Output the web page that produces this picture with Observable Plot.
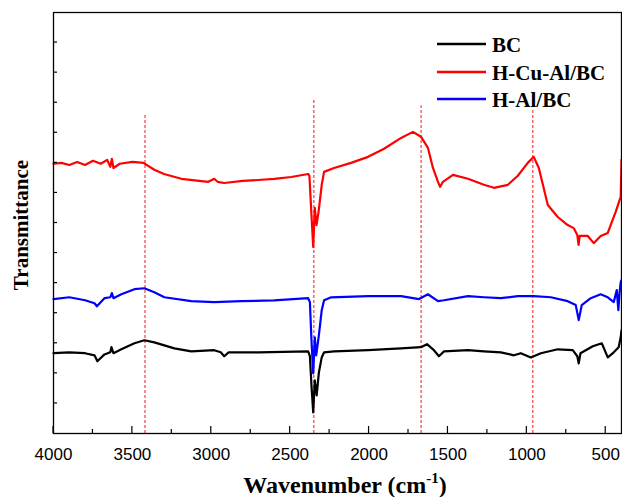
<!DOCTYPE html>
<html><head><meta charset="utf-8">
<script src="https://cdn.jsdelivr.net/npm/d3@7"></script>
<script src="https://cdn.jsdelivr.net/npm/@observablehq/plot@0.6"></script>
<style>body{margin:0;background:#fff}</style>
</head><body><div id="chart"></div>
<script>
const seriesNames = ["BC", "H-Cu-Al/BC", "H-Al/BC"];
const seriesColors = ["#000000", "#ff0000", "#0000ff"];

// BC
const bcWave = [4000,3900,3800,3740,3722,3677,3640,3633,3620,3570,3487,3424,3361,3234,3127,2981,2940,2918,2890,2700,2386,2375,2365,2354,2344,2332,2318,2300,2285,2222,2006,1797,1671,1633,1589,1557,1525,1373,1272,1165,1082,1038,975,911,804,709,680,671,660,582,525,487,449,418,405,400];
const bcT =    [26.7,27,26.7,26,24,26.3,27,28.7,26.7,28,30,31,30.3,28.3,27.3,27.7,27,25.7,27,27,27.3,25.7,16,7,17.7,12.7,20.3,25.3,27,27.3,27.7,28.3,28.7,29.7,27.7,25.7,27.3,27.7,27.3,27,26,26.7,25.3,26.7,28,27.7,25.7,23.3,26.7,29,30,25.3,27,28.7,32,34.3];

// H-Cu-Al/BC
const cuWave = [4000,3950,3900,3850,3800,3750,3700,3660,3640,3630,3620,3580,3500,3430,3361,3300,3190,3019,2981,2960,2918,2800,2703,2600,2494,2386,2378,2365,2354,2344,2333,2320,2300,2285,2222,2114,2006,1905,1797,1722,1671,1627,1595,1563,1550,1532,1468,1373,1272,1209,1120,1057,994,956,924,867,804,741,703,680,672,665,614,576,532,487,437,405,400];
const cuT =    [89.7,90,89.3,90.3,89.3,90.7,89.7,91,88.7,91.3,88.3,89.7,90.3,90,87.7,86.3,84.7,83.7,84.7,83.7,83.3,84,84.3,84.7,85.3,86.3,85.7,72.7,62,75,69.3,73.7,82.7,87,88.3,90,92,94.7,98.3,100.3,98.7,95,88.3,83.7,82,83.7,86,84.7,82.7,81.7,82.7,85.7,90,92,88.3,76,72,69.3,68.3,66,62.7,65.7,65.7,63.3,65.7,66.7,73.7,78.7,91];

// H-Al/BC
const alWave = [4000,3900,3800,3740,3725,3677,3640,3630,3620,3570,3487,3424,3361,3297,3127,2981,2810,2601,2386,2375,2365,2354,2344,2335,2318,2300,2285,2240,2006,1797,1683,1627,1563,1525,1373,1272,1165,1057,956,848,741,690,671,652,595,532,487,449,430,420,412,405,400];
const alT =    [44.7,45.3,44.3,43.3,42.3,45,45.3,46.7,45,46.3,48,48.3,47,45.3,44,43.7,44,44.3,45,43.7,31,20,32,26,32.7,41,44.3,45.3,45.7,45.7,44.7,46.3,44,44.3,45.7,45.3,45,45.7,45.7,45.3,44,42.7,37.7,42.7,45,46.3,45.3,43.7,47.7,41,47,50.3,51];

const markerWave = [3420, 2350, 1670, 962];
const markerTop = [106, 111, 109, 108];

const majorTicks = [4000, 3500, 3000, 2500, 2000, 1500, 1000, 500];
const minorTicks = [3750, 3250, 2750, 2250, 1750, 1250, 750];
const yTicks = [10, 20, 30, 40, 50, 60, 70, 80, 90, 100, 110, 120, 130];

const toRows = (w, t) => w.map((d, i) => ({w: d, t: t[i]}));
const bcData = toRows(bcWave, bcT);
const cuData = toRows(cuWave, cuT);
const alData = toRows(alWave, alT);
const markers = markerWave.map((d, i) => ({w: d, top: markerTop[i]}));

const plot = Plot.plot({
  width: 622, height: 497,
  marginLeft: 53, marginRight: 1, marginTop: 12, marginBottom: 64,
  x: {domain: [4000, 400]},
  y: {domain: [0, 140], axis: null},
  marks: [
    Plot.ruleX(markers, {x: "w", y1: 0, y2: "top", stroke: "#ff3b3b", strokeWidth: 1.2, strokeDasharray: "3,2"}),
    Plot.line(bcData, {x: "w", y: "t", stroke: seriesColors[0], strokeWidth: 2.2}),
    Plot.line(alData, {x: "w", y: "t", stroke: seriesColors[2], strokeWidth: 2.2}),
    Plot.line(cuData, {x: "w", y: "t", stroke: seriesColors[1], strokeWidth: 2.2}),
    Plot.frame({stroke: "#000", strokeWidth: 1.3}),
    Plot.axisX({ticks: majorTicks, tickSize: 0, tickPadding: 14, fontSize: 17,
      fontFamily: "Liberation Sans, Arial, sans-serif", tickFormat: d => String(d), label: null, fill: "#000"})
  ]
});

const svg = d3.select(plot);
const xs = plot.scale("x"), ys = plot.scale("y");
const y0 = ys.apply(0), xL = xs.apply(4000);
const g = svg.append("g").attr("stroke", "#000").attr("stroke-width", 1.2);
majorTicks.forEach(v => g.append("line").attr("x1", xs.apply(v)).attr("x2", xs.apply(v)).attr("y1", y0).attr("y2", y0 - 7));
minorTicks.forEach(v => g.append("line").attr("x1", xs.apply(v)).attr("x2", xs.apply(v)).attr("y1", y0).attr("y2", y0 - 4));
yTicks.forEach(v => g.append("line").attr("x1", xL).attr("x2", xL + 4).attr("y1", ys.apply(v)).attr("y2", ys.apply(v)));

const serif = "'Liberation Serif', 'Times New Roman', serif";
// Y title
svg.append("text").attr("transform", "translate(28,225) rotate(-90)")
  .attr("text-anchor", "middle").attr("font-family", serif).attr("font-weight", "bold")
  .attr("font-size", 21).attr("fill", "#000").text("Transmittance");
// X title
const xt = svg.append("text").attr("x", 345).attr("y", 493).attr("text-anchor", "middle")
  .attr("font-family", serif).attr("font-weight", "bold").attr("font-size", 24).attr("fill", "#000");
xt.append("tspan").text("Wavenumber (cm");
xt.append("tspan").attr("font-size", 15).attr("dy", -10).text("-1");
xt.append("tspan").attr("dy", 10).text(")");

// Legend
const legY = [44, 72, 99];
seriesNames.forEach((name, i) => {
  svg.append("line").attr("x1", 437).attr("x2", 486).attr("y1", legY[i]).attr("y2", legY[i])
    .attr("stroke", seriesColors[i]).attr("stroke-width", 2.4);
  svg.append("text").attr("x", 492).attr("y", legY[i] + 8).attr("text-anchor", "start")
    .attr("font-family", serif).attr("font-weight", "bold").attr("font-size", 21)
    .attr("fill", "#000").text(name);
});

document.getElementById("chart").appendChild(plot);
</script>
</body></html>
